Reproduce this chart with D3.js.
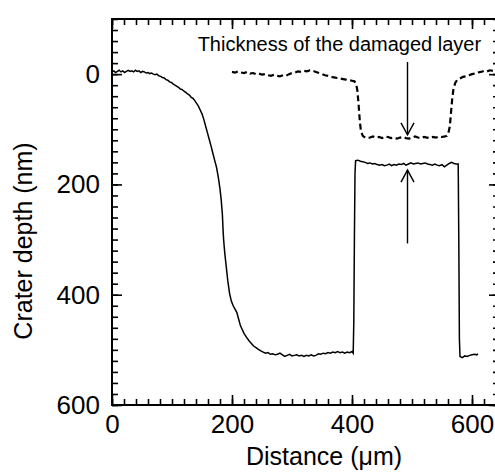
<!DOCTYPE html>
<html>

<head>
    <meta charset="UTF-8">
    <title>crater</title>
    <style>
        body { margin: 0; background: #fff; }
        text { font-family: "Liberation Sans", Arial, sans-serif; fill: #000; }
    </style>
</head>

<body>
    <script src="https://cdn.jsdelivr.net/npm/d3@7/dist/d3.min.js"></script>
    <svg id="chart" width="495" height="475"></svg>

    <script>
        // [distance (um), depth (nm)] - measured profile, solid
        const profileSolid = [
            [0, -4], [3, -6], [6, -3], [9, -5], [12, -7], [15, -4], [18, -6], [21, -3], [24, -5], [27, -7],
            [30, -5], [33, -6], [36, -4], [39, -7], [42, -5], [45, -6], [48, -3], [51, -5], [54, -4], [57, -2],
            [60, -3], [63, -1], [66, -2], [69, 0], [72, 1], [75, 0], [78, 3], [81, 4], [84, 6], [87, 7],
            [90, 10], [93, 11], [96, 14], [99, 15], [102, 18], [105, 20], [108, 22], [111, 24], [114, 27], [117, 28],
            [120, 31], [123, 33], [126, 36], [129, 38], [132, 42], [135, 44], [138, 48], [141, 53], [144, 58], [147, 65],
            [150, 72], [153, 82], [156, 94], [159, 106], [162, 118], [165, 130], [168, 143], [171, 156], [174, 168], [177, 186],
            [180, 208], [182, 228], [184, 255], [185, 280], [186, 300], [188, 325], [190, 345], [193, 375], [196, 398], [199, 412],
            [202, 420], [205, 426], [208, 432], [211, 444], [214, 456], [217, 463], [220, 470], [224, 477], [228, 483], [232, 488],
            [236, 493], [240, 496], [244, 499], [248, 502], [252, 504], [256, 506], [260, 505], [264, 508], [268, 507], [272, 509],
            [276, 508], [280, 506], [284, 509], [288, 512], [292, 510], [296, 508], [300, 511], [304, 510], [308, 509], [312, 511],
            [316, 510], [320, 512], [324, 510], [328, 511], [332, 509], [336, 511], [340, 510], [344, 507], [348, 508], [352, 506],
            [356, 507], [360, 505], [364, 506], [368, 504], [372, 505], [376, 503], [380, 505], [384, 504], [388, 506], [392, 504],
            [396, 505], [400, 503], [402, 506], [403, 450], [404, 300], [405, 180], [406, 157], [410, 156], [414, 158], [418, 159],
            [422, 160], [426, 162], [430, 161], [434, 163], [438, 162], [442, 164], [446, 165], [450, 164], [454, 166], [458, 165],
            [462, 163], [466, 166], [470, 164], [474, 165], [478, 163], [482, 164], [486, 162], [490, 165], [494, 163], [498, 161],
            [502, 163], [506, 162], [510, 161], [514, 163], [518, 162], [522, 161], [526, 163], [530, 164], [534, 165], [538, 163],
            [542, 165], [546, 166], [550, 164], [554, 168], [558, 165], [562, 162], [566, 160], [570, 162], [574, 163], [577, 163],
            [578, 300], [579, 480], [580, 512], [584, 514], [588, 511], [592, 512], [596, 510], [600, 509], [604, 508], [608, 509],
            [610, 507]
        ];

        // dashed profile
        const profileDashed = [
            [200, -4], [205, -3], [210, -5], [215, -3], [220, -2], [225, -4], [230, -1], [235, -2], [240, 0], [245, -1],
            [250, 1], [255, 0], [260, 2], [265, 3], [270, 1], [275, 3], [280, 4], [285, 2], [290, 3], [295, 0],
            [300, -2], [305, -3], [310, -5], [315, -4], [320, -6], [325, -5], [330, -7], [335, -6], [340, -4], [345, -2],
            [350, 0], [355, 2], [360, 3], [365, 5], [370, 6], [375, 7], [380, 8], [385, 9], [390, 10], [395, 11],
            [400, 12], [404, 13], [407, 18], [409, 30], [411, 55], [413, 85], [415, 104], [418, 112], [422, 115], [426, 116],
            [430, 115], [435, 113], [440, 115], [445, 114], [450, 116], [455, 113], [460, 114], [465, 116], [470, 115], [475, 117],
            [480, 115], [485, 114], [490, 116], [495, 117], [500, 115], [505, 113], [510, 115], [515, 116], [520, 114], [525, 115],
            [530, 116], [535, 114], [540, 115], [545, 113], [550, 114], [555, 113], [558, 112], [561, 105], [563, 95], [565, 70],
            [567, 45], [569, 28], [572, 16], [575, 11], [580, 8], [585, 5], [590, 4], [595, 2], [600, 0], [605, -1],
            [610, -3], [615, -4], [620, -6], [625, -5], [630, -7], [635, -6], [640, -8], [645, -7]
        ];

        const xMajorTicks = [0, 200, 400, 600];
        const yMajorTicks = [0, 200, 400, 600];
        const minorStep = 20;

        const label = "Thickness of the damaged layer";
        const labelPos = [379, -42];
        const arrowDown = { x: 492.5, from: -22, to: 110 };
        const arrowUp = { x: 492.5, from: 307, to: 174 };

        const svg = d3.select("#chart");
        const mLeft = 112, mTop = 19, mRight = 499, mBottom = 405;

        const x = d3.scaleLinear().domain([0, 645]).range([mLeft, mRight]);
        const y = d3.scaleLinear().domain([-100, 600]).range([mTop, mBottom]);

        const xMinor = d3.range(0, 645, minorStep);
        const yMinor = d3.range(-100, 601, minorStep);

        svg.append("clipPath").attr("id", "clip")
            .append("rect").attr("x", mLeft).attr("y", mTop)
            .attr("width", mRight - mLeft).attr("height", mBottom - mTop);

        // frame
        svg.append("rect")
            .attr("x", mLeft).attr("y", mTop)
            .attr("width", mRight - mLeft).attr("height", mBottom - mTop)
            .style("fill", "none").attr("stroke", "#000").attr("stroke-width", 2);

        // ticks, all pointing inward
        const addAxis = (axis, tr) => {
            const g = svg.append("g").attr("transform", tr).call(axis);
            g.select(".domain").remove();
            g.selectAll("line").attr("stroke", "#000").attr("stroke-width", 1.6);
            return g;
        }

        addAxis(d3.axisBottom(x).tickValues(xMinor).tickSize(-6).tickFormat(""), `translate(0,${mBottom})`);
        addAxis(d3.axisTop(x).tickValues(xMinor).tickSize(-6).tickFormat(""), `translate(0,${mTop})`);
        addAxis(d3.axisLeft(y).tickValues(yMinor).tickSize(-6).tickFormat(""), `translate(${mLeft},0)`);
        addAxis(d3.axisRight(y).tickValues(yMinor).tickSize(-6).tickFormat(""), `translate(${mRight},0)`);
        addAxis(d3.axisTop(x).tickValues(xMajorTicks).tickSize(-10).tickFormat(""), `translate(0,${mTop})`);
        addAxis(d3.axisRight(y).tickValues(yMajorTicks).tickSize(-10).tickFormat(""), `translate(${mRight},0)`);

        const gx = addAxis(d3.axisBottom(x).tickValues(xMajorTicks).tickSize(-10).tickPadding(10), `translate(0,${mBottom})`);
        gx.selectAll("text").attr("font-size", 26).attr("fill", "#000");
        const gy = addAxis(d3.axisLeft(y).tickValues(yMajorTicks).tickSize(-10).tickPadding(12), `translate(${mLeft},0)`);
        gy.selectAll("text").attr("font-size", 26).attr("fill", "#000");
        svg.selectAll("g").attr("font-family", null).attr("font-size", null);

        const line = d3.line().x(d => x(d[0])).y(d => y(d[1]));

        svg.append("path")
            .datum(profileSolid)
            .attr("clip-path", "url(#clip)")
            .attr("d", line)
            .attr("fill", "none")
            .attr("stroke", "#000")
            .attr("stroke-width", 1.5);

        svg.append("path")
            .datum(profileDashed)
            .attr("clip-path", "url(#clip)")
            .attr("d", line)
            .attr("fill", "none")
            .attr("stroke", "#000")
            .attr("stroke-width", 2.2)
            .attr("stroke-dasharray", "6,3.5");

        // arrows
        const drawArrow = a => {
            const ax = x(a.x), y0 = y(a.from), y1 = y(a.to);
            const dir = y1 > y0 ? -1 : 1;
            svg.append("line")
                .attr("x1", ax).attr("x2", ax).attr("y1", y0).attr("y2", y1)
                .attr("stroke", "#000").attr("stroke-width", 1.4);
            svg.append("polyline")
                .attr("points", [[ax - 6.5, y1 + dir * 12], [ax, y1], [ax + 6.5, y1 + dir * 12]].join(" "))
                .attr("fill", "none").attr("stroke", "#000").attr("stroke-width", 1.4);
        }
        drawArrow(arrowDown);
        drawArrow(arrowUp);

        svg.append("text")
            .attr("x", x(labelPos[0])).attr("y", y(labelPos[1]))
            .attr("text-anchor", "middle")
            .attr("font-size", 20)
            .text(label);

        svg.append("text")
            .attr("x", 324).attr("y", 465)
            .attr("text-anchor", "middle")
            .attr("font-size", 25)
            .text("Distance (μm)");

        svg.append("text")
            .attr("transform", "translate(32,241) rotate(-90)")
            .attr("text-anchor", "middle")
            .attr("font-size", 25)
            .text("Crater depth (nm)");
    </script>

</body>

</html>
